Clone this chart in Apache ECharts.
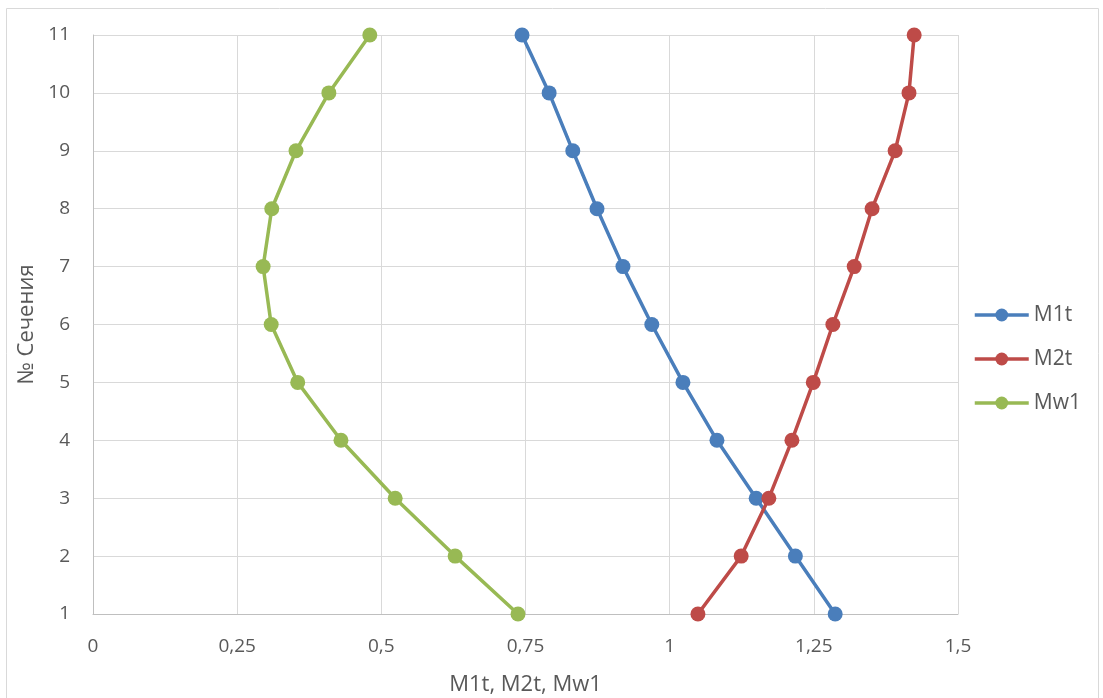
<!DOCTYPE html>
<html>
<head>
<meta charset="utf-8">
<script src="https://cdn.jsdelivr.net/npm/echarts@6/dist/echarts.min.js"></script>
<style>
html,body{margin:0;padding:0;background:#fff;}
#c{width:1103px;height:698px;}
</style>
</head>
<body>
<div id="c"></div>
<script>
const sections = [1,2,3,4,5,6,7,8,9,10,11];
const m1t = [1.287,1.218,1.150,1.082,1.023,0.969,0.919,0.874,0.832,0.791,0.744];
const m2t = [1.049,1.124,1.172,1.212,1.249,1.283,1.320,1.351,1.391,1.415,1.424];
const mw1 = [0.737,0.628,0.524,0.430,0.355,0.309,0.295,0.310,0.352,0.409,0.480];
const seriesNames = ['M1t','M2t','Mw1'];
const colors = ['#4A7EBB','#BE4B48','#98B954'];

const chart = echarts.init(document.getElementById('c'));
const font = '"Open Sans", "Liberation Sans", sans-serif';
function mk(name, vals, color){
  return {
    name, type:'line', data: vals.map((v,i)=>[v, sections[i]]),
    color, symbol:'circle', symbolSize:15,
    lineStyle:{width:3.5, color}, itemStyle:{color},
    z: 3
  };
}
chart.setOption({
  animation:false,
  textStyle:{fontFamily:font},
  graphic:[{type:'rect', shape:{x:6.5,y:8.5,width:1092,height:700}, style:{fill:'none', stroke:'#d9d9d9', lineWidth:1}, silent:true}],
  grid:{left:93, right:145, top:35, bottom:84, outerBoundsMode:'none', containLabel:false},
  legend:{
    orient:'vertical', left:968, top:299, itemWidth:54, itemHeight:16, itemGap:22,
    lineStyle:{width:3.5},
    textStyle:{fontSize:21, lineHeight:22, color:'#595959', fontFamily:font},
    data: seriesNames
  },
  xAxis:{
    type:'value', min:0, max:1.5, interval:0.25,
    name:'M1t, M2t, Mw1', nameLocation:'middle', nameGap:60,
    nameTextStyle:{fontSize:22, color:'#595959', fontFamily:font},
    axisLine:{show:true, lineStyle:{color:'#bfbfbf', width:1}},
    axisTick:{show:false},
    axisLabel:{fontSize:19, color:'#595959', margin:23, fontFamily:font, formatter:v=>String(v).replace('.',',')},
    splitLine:{show:true, lineStyle:{color:'#d9d9d9', width:1}}
  },
  yAxis:{
    type:'value', min:1, max:11, interval:1,
    name:'№ Сечения', nameLocation:'middle', nameGap:42, nameRotate:90,
    nameTextStyle:{fontSize:22, color:'#595959', fontFamily:font},
    axisLine:{show:true, lineStyle:{color:'#bfbfbf', width:1}},
    axisTick:{show:false},
    axisLabel:{fontSize:19, color:'#595959', margin:23, fontFamily:font},
    splitLine:{show:true, lineStyle:{color:'#d9d9d9', width:1}}
  },
  series:[mk('M1t',m1t,colors[0]), mk('M2t',m2t,colors[1]), mk('Mw1',mw1,colors[2])]
});
</script>
</body>
</html>
